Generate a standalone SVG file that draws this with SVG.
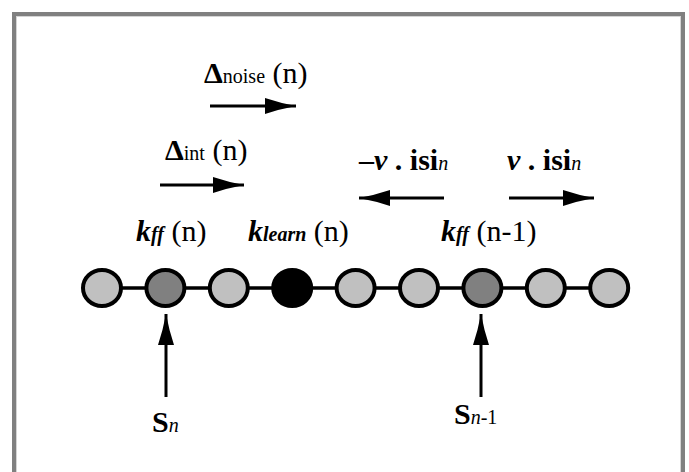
<svg xmlns="http://www.w3.org/2000/svg" width="689" height="472" viewBox="0 0 689 472">
<style>
text{font-family:"Liberation Serif","Times New Roman",serif;font-size:30px;fill:#000;white-space:pre}
.b{font-weight:bold}
.i{font-style:italic}
.bi{font-weight:bold;font-style:italic}
.sub{font-size:20px}
.node{stroke:#000;stroke-width:4}
.light{fill:#c0c0c0}
.dark{fill:#808080}
.black{fill:#000}
.conn{stroke:#000;stroke-width:3.5;fill:none}
.arr{stroke:#000;stroke-width:3;fill:none;marker-end:url(#head)}
</style>
<defs>
<marker id="head" markerUnits="userSpaceOnUse" viewBox="-33 -10 35 20" refX="0" refY="0" markerWidth="35" markerHeight="20" orient="auto">
<path d="M0,0 Q-16,-3 -31,-8 L-31,8 Q-16,3 0,0 Z" fill="#000"/>
</marker>
</defs>
<rect width="689" height="472" fill="#fff"/>
<rect x="14" y="14" width="669" height="480" fill="none" stroke="#808080" stroke-width="4"/>
<rect x="16.5" y="16.5" width="664" height="480" fill="none" stroke="#d4d4d4" stroke-width="1"/>

<g id="connectors">
<line class="conn" x1="102" y1="288" x2="609" y2="288"/>
<line class="arr" x1="210" y1="106" x2="296" y2="106"/>
<line class="arr" x1="160" y1="185" x2="244" y2="185"/>
<line class="arr" x1="444" y1="198" x2="359" y2="198"/>
<line class="arr" x1="509" y1="198" x2="594" y2="198"/>
<line class="arr" x1="166" y1="397" x2="166" y2="314"/>
<line class="arr" x1="481" y1="397" x2="481" y2="314"/>
</g>

<g id="n1"><ellipse class="node light" cx="102" cy="288" rx="19" ry="18"/></g>
<g id="n2"><ellipse class="node dark" cx="165.4" cy="288" rx="19" ry="18"/></g>
<g id="n3"><ellipse class="node light" cx="228.8" cy="288" rx="19" ry="18"/></g>
<g id="n4"><ellipse class="node black" cx="292.2" cy="288" rx="19" ry="18"/></g>
<g id="n5"><ellipse class="node light" cx="355.6" cy="288" rx="19" ry="18"/></g>
<g id="n6"><ellipse class="node light" cx="419" cy="288" rx="19" ry="18"/></g>
<g id="n7"><ellipse class="node dark" cx="482.4" cy="288" rx="19" ry="18"/></g>
<g id="n8"><ellipse class="node light" cx="545.8" cy="288" rx="19" ry="18"/></g>
<g id="n9"><ellipse class="node light" cx="609.2" cy="288" rx="19" ry="18"/></g>

<g id="labels">
<text x="204" y="83"><tspan class="b">Δ</tspan><tspan class="sub">noise</tspan> (n)</text>
<text x="165" y="160"><tspan class="b">Δ</tspan><tspan class="sub">int</tspan> (n)</text>
<text x="359" y="170" class="b">–<tspan class="bi">v</tspan> . isi<tspan class="sub" font-weight="normal" font-style="italic">n</tspan></text>
<text x="507" y="170" class="b"><tspan class="bi">v</tspan> . isi<tspan class="sub" font-weight="normal" font-style="italic">n</tspan></text>
<text x="136" y="241"><tspan class="bi">k</tspan><tspan class="sub bi">ff</tspan> (n)</text>
<text x="248" y="241"><tspan class="bi">k</tspan><tspan class="sub bi">learn</tspan> (n)</text>
<text x="441" y="241"><tspan class="bi">k</tspan><tspan class="sub bi">ff</tspan> (n-1)</text>
<text x="152" y="432"><tspan class="b">S</tspan><tspan class="sub i">n</tspan></text>
<text x="454" y="424"><tspan class="b">S</tspan><tspan class="sub i">n</tspan><tspan class="sub">-1</tspan></text>
</g>
</svg>
